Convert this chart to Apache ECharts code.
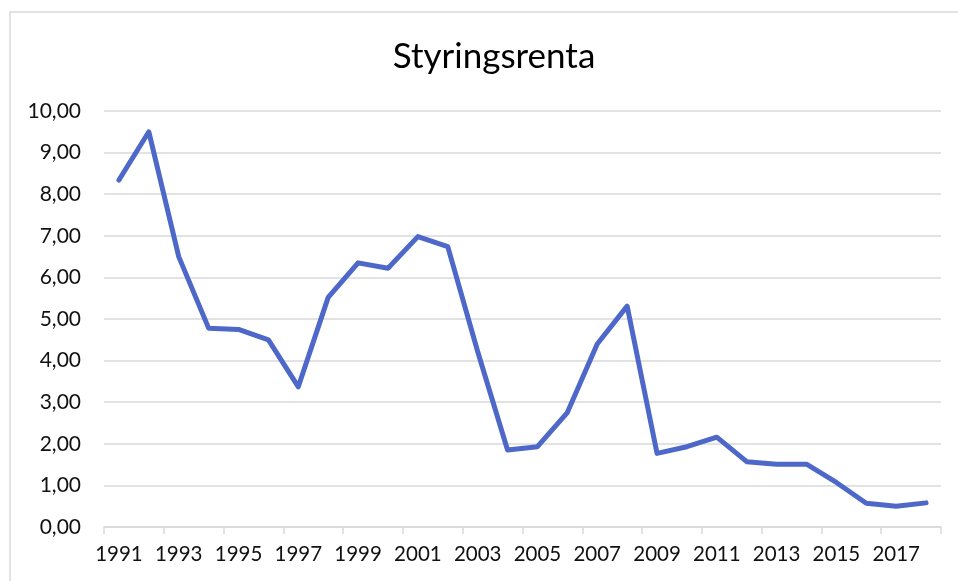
<!DOCTYPE html>
<html>
<head>
<meta charset="utf-8">
<title>Styringsrenta</title>
<script src="https://cdn.jsdelivr.net/npm/echarts@6/dist/echarts.min.js"></script>
<style>
  html, body { margin: 0; padding: 0; background: #fff; }
  #chart { width: 958px; height: 581px; }
</style>
</head>
<body>
<div id="chart"></div>
<script>
const years = ['1991', '1992', '1993', '1994', '1995', '1996', '1997', '1998', '1999', '2000',
  '2001', '2002', '2003', '2004', '2005', '2006', '2007', '2008', '2009', '2010',
  '2011', '2012', '2013', '2014', '2015', '2016', '2017', '2018'];
const rente = [8.34, 9.50, 6.50, 4.78, 4.75, 4.50, 3.37, 5.52, 6.35, 6.22,
  6.98, 6.74, 4.22, 1.85, 1.93, 2.75, 4.40, 5.31, 1.77, 1.93,
  2.16, 1.57, 1.51, 1.51, 1.07, 0.57, 0.50, 0.58];
const yTicks = { min: 0, max: 10, step: 1 };

const font = 'Lato, "Open Sans", sans-serif';
const chart = echarts.init(document.getElementById('chart'));

chart.setOption({
  backgroundColor: '#fff',
  animation: false,
  title: {
    text: 'Styringsrenta',
    left: 489,
    top: 34,
    textAlign: 'center',
    textStyle: { color: '#000', fontSize: 35, fontWeight: 'normal', fontFamily: font }
  },
  graphic: [
    {
      type: 'rect',
      shape: { x: 10, y: 12, width: 1000, height: 1000 },
      style: { fill: 'none', stroke: '#d9d9d9', lineWidth: 1.5 },
      silent: true
    }
  ],
  grid: { left: 104, right: 17, top: 111, bottom: 54, containLabel: false, outerBoundsMode: 'none' },
  xAxis: {
    type: 'category',
    data: years,
    boundaryGap: true,
    axisLine: { lineStyle: { color: '#d9d9d9', width: 1.5 } },
    axisTick: { show: true, interval: 1, length: 7, lineStyle: { color: '#d9d9d9', width: 1.5 } },
    axisLabel: { interval: 1, margin: 17, color: '#111', fontSize: 20.5, fontFamily: font },
    splitLine: { show: false }
  },
  yAxis: {
    type: 'value',
    min: yTicks.min,
    max: yTicks.max,
    interval: yTicks.step,
    axisLine: { show: false },
    axisTick: { show: false },
    axisLabel: {
      margin: 23,
      color: '#111',
      fontSize: 21,
      fontFamily: font,
      formatter: v => v.toFixed(2).replace('.', ',')
    },
    splitLine: { lineStyle: { color: '#d9d9d9', width: 1.5 } }
  },
  series: [
    {
      type: 'line',
      data: rente,
      showSymbol: false,
      symbol: 'none',
      lineStyle: { color: '#4d68c9', width: 5, cap: 'round', join: 'round' }
    }
  ]
});
</script>
</body>
</html>
